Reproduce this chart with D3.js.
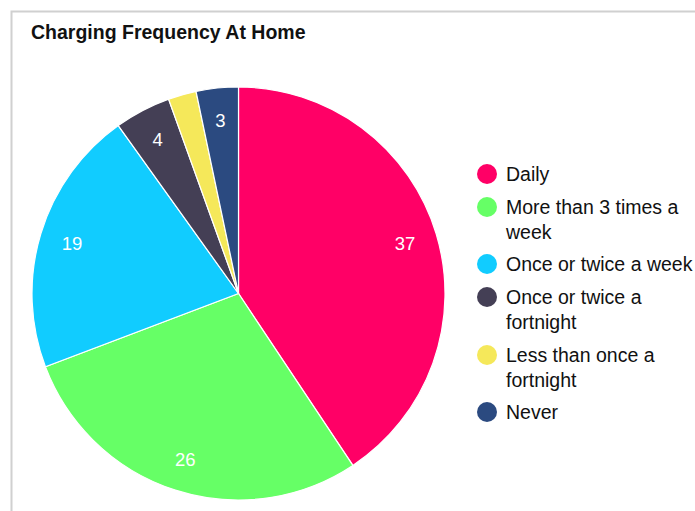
<!DOCTYPE html>
<html><head><meta charset="utf-8">
<script src="https://cdn.jsdelivr.net/npm/d3@7"></script>
<style>body{margin:0;background:#fff;font-family:"Liberation Sans",Arial,sans-serif}</style>
</head><body>
<svg id="c" width="695" height="511"></svg>
<script>
const categories = ["Daily","More than 3 times a week","Once or twice a week","Once or twice a fortnight","Less than once a fortnight","Never"];
const legendLines = [["Daily"],["More than 3 times a","week"],["Once or twice a week"],["Once or twice a","fortnight"],["Less than once a","fortnight"],["Never"]];
const values = [37,26,19,4,2,3];
const colors = ["#ff0066","#66ff66","#11ccff","#443f55","#f5e85a","#2b4a80"];
const title = "Charging Frequency At Home";

const svg = d3.select("#c");
svg.append("rect").attr("x",11.5).attr("y",11.5).attr("width",700).attr("height",520)
  .attr("fill","none").attr("stroke","#d0d0d0").attr("stroke-width",2);
svg.append("text").attr("x",31).attr("y",39).attr("font-size",19.5).attr("font-weight","bold")
  .attr("fill","#111").text(title);

const cx=238.5, cy=293.5, R=206.5;
const color = d3.scaleOrdinal().domain(categories).range(colors);
const pie = d3.pie().sort(null).value(d=>d.v);
const data = pie(categories.map((c,i)=>({c, v:values[i]})));
const arc = d3.arc().innerRadius(0).outerRadius(R);
const labelArc = d3.arc().innerRadius(174).outerRadius(174);
const g = svg.append("g").attr("transform",`translate(${cx},${cy})`);
g.selectAll("path").data(data).join("path").attr("d",arc)
  .attr("fill",d=>color(d.data.c)).attr("stroke","#fff").attr("stroke-width",1.2);
g.selectAll("text").data(data.filter(d=>d.data.v>=3)).join("text")
  .attr("transform",d=>`translate(${labelArc.centroid(d)})`)
  .attr("text-anchor","middle").attr("dy","0.36em").attr("font-size",18.5)
  .attr("fill","#fff").text(d=>d.data.v);

const starts=[174,207,264,297,355,412];
const lg = svg.append("g");
categories.forEach((c,i)=>{
  lg.append("circle").attr("cx",487).attr("cy",starts[i]).attr("r",10).attr("fill",color(c));
  legendLines[i].forEach((t,j)=>{
    lg.append("text").attr("x",506).attr("y",starts[i]+j*25).attr("dy","0.36em")
      .attr("font-size",19.5).attr("fill","#111").text(t);
  });
});
</script>
</body></html>
